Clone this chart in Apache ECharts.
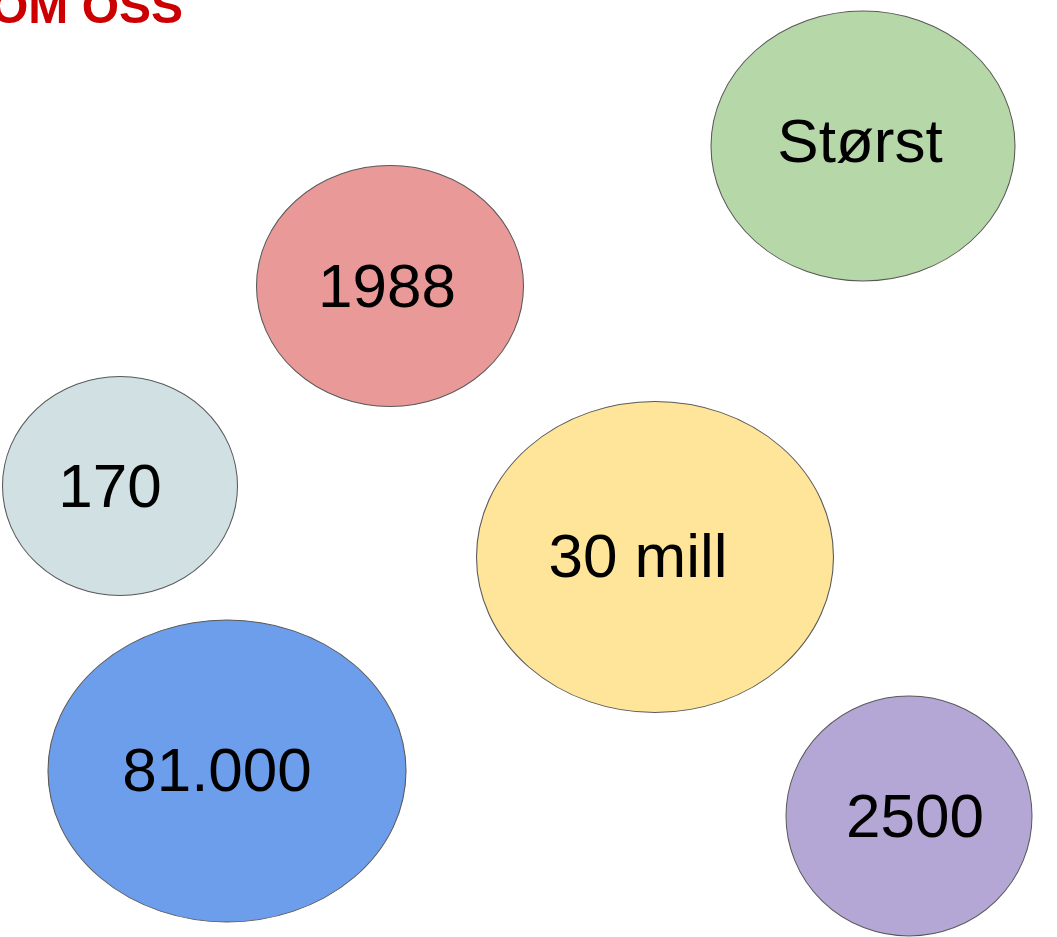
<!DOCTYPE html>
<html>
<head>
<meta charset="utf-8">
<style>
	html, body { margin: 0; padding: 0; background: #fff; }
	#om-oss { width: 1057px; height: 937px; }
</style>
<script src="https://cdn.jsdelivr.net/npm/echarts@6/dist/echarts.min.js"></script>
</head>
<body>
<div id="om-oss"></div>
<script>
// bobler: tekst, sentrum (x, y) og bredde/høyde
var labels  = ['Størst', '1988', '170', '30 mill', '81.000', '2500'];
var centerX = [863, 390, 120, 655, 227, 909];
var centerY = [146, 286, 486, 557, 771, 816];
var widths  = [304, 267, 235, 357, 358, 246];
var heights = [270, 241, 219, 311, 302, 240];

var fills = ['#b6d7a8', '#ea9999', '#d0e0e3', '#ffe599', '#6d9eeb', '#b4a7d6'];
// teksten sitter litt skjevt i noen av boblene
var labelNudge = [[-3, -1], [-3, 4], [-10, 4], [-17, 3], [-10, 3], [6, 4]];

var chart = echarts.init(document.getElementById('om-oss'));

var bubbles = labels.map(function (name, i) {
	return {
		name: name,
		value: [centerX[i], centerY[i], widths[i], heights[i]],
		itemStyle: { color: fills[i] },
		label: { offset: labelNudge[i] }
	};
});

var option = {
	backgroundColor: '#fff',
	animation: false,
	title: {
		text: 'OM OSS',
		left: -9,
		top: -14,
		padding: 0,
		textStyle: {
			fontFamily: 'Liberation Sans',
			fontWeight: 'bold',
			fontSize: 48,
			color: '#cc0000'
		}
	},
	grid: { left: 0, right: 0, top: 0, bottom: 0 },
	xAxis: { type: 'value', min: 0, max: 1057, show: false },
	yAxis: { type: 'value', min: 0, max: 937, inverse: true, show: false },
	series: [
		{
			type: 'scatter',
			symbol: 'path://M0,50A50,50,0,1,1,100,50A50,50,0,1,1,0,50Z',
			symbolSize: function (val) {
				return [val[2], val[3]];
			},
			itemStyle: {
				borderColor: '#595959',
				borderWidth: 1,
				opacity: 1
			},
			label: {
				show: true,
				position: 'inside',
				formatter: '{b}',
				fontFamily: 'Liberation Sans',
				fontSize: 62,
				color: '#000'
			},
			emphasis: { disabled: true },
			data: bubbles
		}
	]
};

chart.setOption(option);
</script>
</body>
</html>
